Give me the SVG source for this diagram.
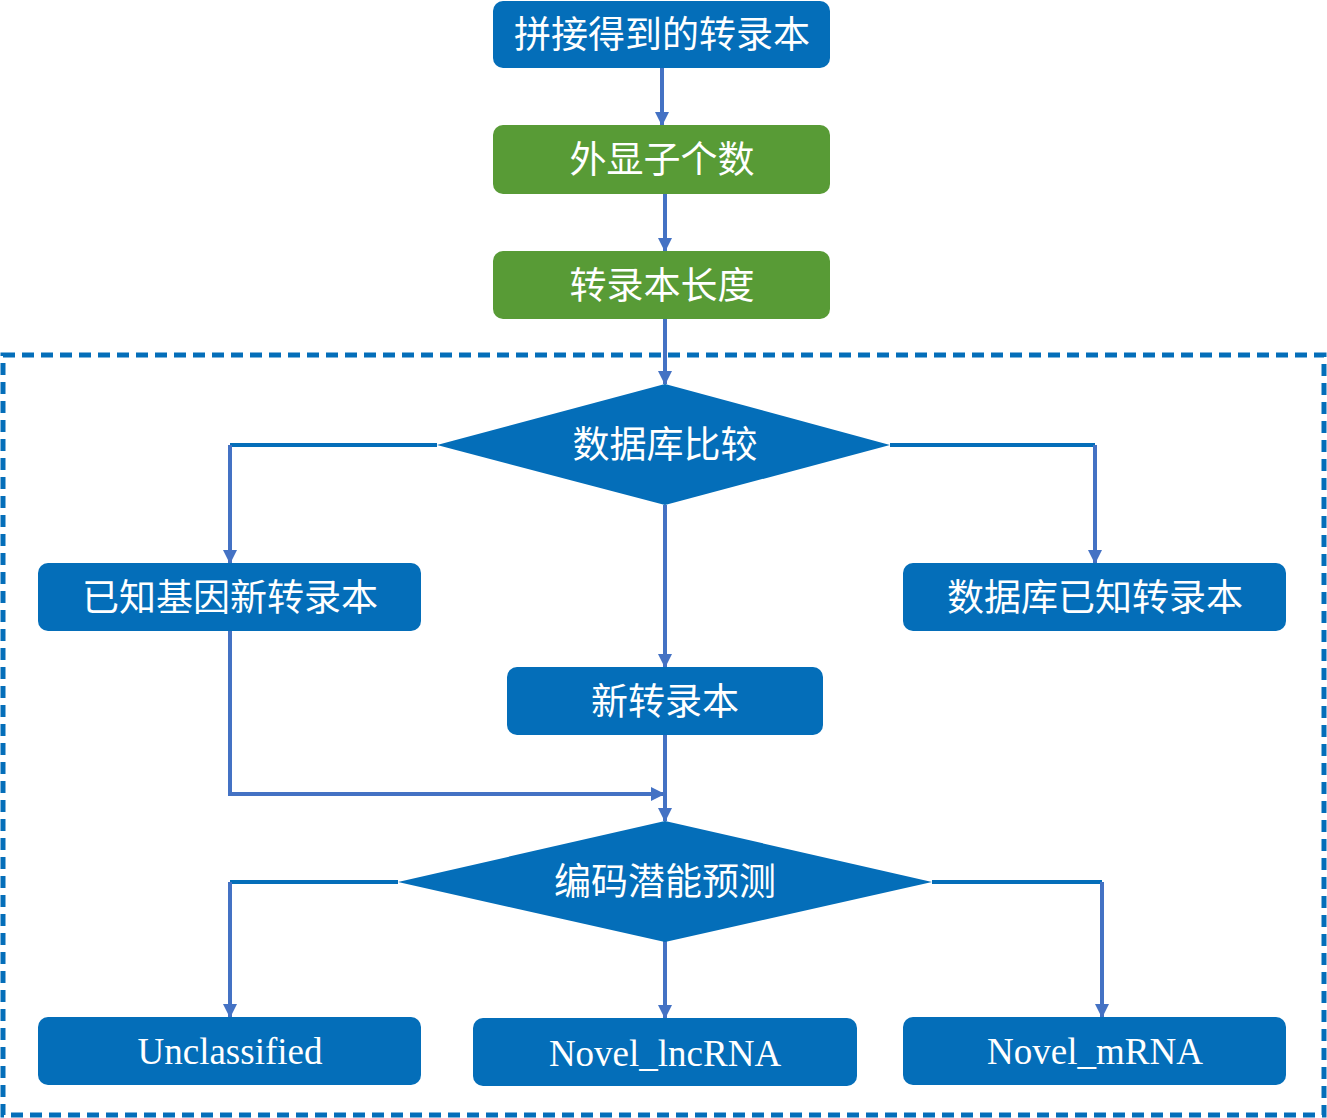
<svg xmlns="http://www.w3.org/2000/svg" width="1327" height="1118" viewBox="0 0 1327 1118">
<style>
.blue{fill:#046EB9;}
.green{fill:#589B36;}
.cn{font-family:"Noto Sans CJK SC","Noto Sans",sans-serif;font-size:37px;fill:#fff;text-anchor:middle;}
.en{font-family:"Liberation Serif","Times New Roman",serif;font-size:37px;fill:#fff;text-anchor:middle;}
.v{stroke:#4472C4;stroke-width:4;fill:none;}
.h{stroke:#046EB9;stroke-width:4;fill:none;}
</style>
<defs>
<marker id="arr" markerUnits="userSpaceOnUse" markerWidth="14" markerHeight="14" viewBox="0 0 14 14" refX="13" refY="7" orient="auto">
<path d="M0,0 L14,7 L0,14 Z" fill="#4472C4"/>
</marker>
</defs>
<rect x="3" y="355" width="1321" height="760" fill="none" stroke="#046EB9" stroke-width="5" stroke-dasharray="12 7"/>
<g id="connectors">
<path class="v" d="M662,68 V125" marker-end="url(#arr)"/>
<path class="v" d="M665,194 V251" marker-end="url(#arr)"/>
<path class="v" d="M665,319 V384" marker-end="url(#arr)"/>
<path class="h" d="M437,445 H230"/>
<path class="v" d="M230,445 V563" marker-end="url(#arr)"/>
<path class="h" d="M890,445 H1095"/>
<path class="v" d="M1095,445 V563" marker-end="url(#arr)"/>
<path class="v" d="M665,505 V667" marker-end="url(#arr)"/>
<path class="v" d="M230,631 V794 H664" marker-end="url(#arr)"/>
<path class="v" d="M665,735 V821" marker-end="url(#arr)"/>
<path class="h" d="M398,882 H230"/>
<path class="v" d="M230,882 V1017" marker-end="url(#arr)"/>
<path class="v" d="M665,932 V1018" marker-end="url(#arr)"/>
<path class="h" d="M932,882 H1102"/>
<path class="v" d="M1102,882 V1017" marker-end="url(#arr)"/>
</g>
<g id="n1"><rect class="blue" x="493" y="1" width="337" height="67" rx="10"/><text class="cn" x="662" y="48">拼接得到的转录本</text></g>
<g id="n2"><rect class="green" x="493" y="125" width="337" height="69" rx="10"/><text class="cn" x="662" y="173">外显子个数</text></g>
<g id="n3"><rect class="green" x="493" y="251" width="337" height="68" rx="10"/><text class="cn" x="662" y="299">转录本长度</text></g>
<g id="d1"><polygon class="blue" points="437,445 665,384 890,445 665,505"/><text class="cn" x="665" y="458">数据库比较</text></g>
<g id="n4"><rect class="blue" x="38" y="563" width="383" height="68" rx="10"/><text class="cn" x="230" y="611">已知基因新转录本</text></g>
<g id="n5"><rect class="blue" x="903" y="563" width="383" height="68" rx="10"/><text class="cn" x="1095" y="611">数据库已知转录本</text></g>
<g id="n6"><rect class="blue" x="507" y="667" width="316" height="68" rx="10"/><text class="cn" x="665" y="715">新转录本</text></g>
<g id="d2"><polygon class="blue" points="398,882 665,821 932,882 665,942"/><text class="cn" x="665" y="895">编码潜能预测</text></g>
<g id="n7"><rect class="blue" x="38" y="1017" width="383" height="68" rx="10"/><text class="en" x="230" y="1064">Unclassified</text></g>
<g id="n8"><rect class="blue" x="473" y="1018" width="384" height="68" rx="10"/><text class="en" x="665" y="1066">Novel_lncRNA</text></g>
<g id="n9"><rect class="blue" x="903" y="1017" width="383" height="68" rx="10"/><text class="en" x="1095" y="1064">Novel_mRNA</text></g>
</svg>
